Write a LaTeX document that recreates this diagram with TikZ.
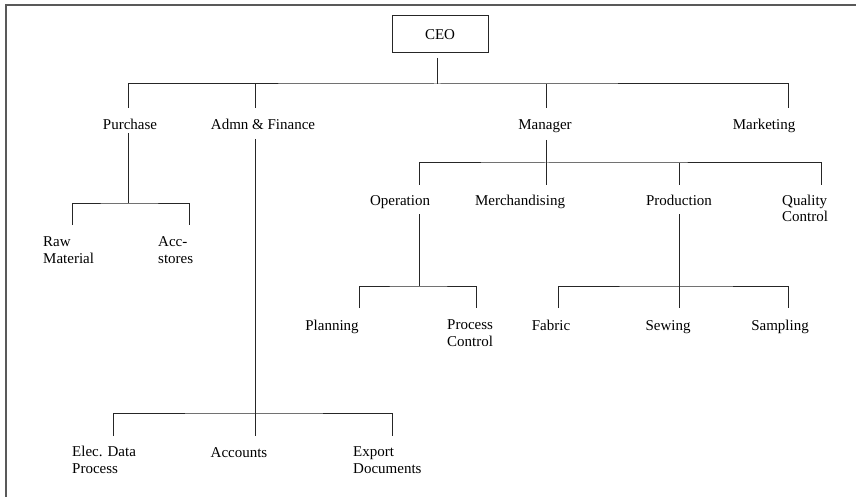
\documentclass[tikz,border=0pt]{standalone}
\usepackage{fontspec}
\setmainfont{Liberation Serif}
\begin{document}
\begin{tikzpicture}[x=1pt,y=-1pt,
  every node/.style={inner sep=0pt, font=\fontsize{15}{16.5}\selectfont},
  lbl/.style={anchor=base},
  % two-line labels: anchored at the baseline of their last line
  lbl2/.style={anchor=base west, align=left},
  link/.style={draw=black!85, line width=1pt},
  frame/.style={draw=black!65, line width=1.4pt}]
\useasboundingbox (0,0) rectangle (856,497);
% page frame (left and top edges)
\draw[frame] (6,497) -- (6,5) -- (856,5);

% ---- nodes ----
\node[draw=black!85, line width=1pt, minimum width=96pt, minimum height=37pt] (ceo) at (440,34.5) {CEO};

\node[lbl] (purchase) at (130,130) {Purchase};
\node[lbl] (admn) at (263,130) {Admn \& Finance};
\node[lbl] (manager) at (545,130) {Manager};
\node[lbl] (marketing) at (764,130) {Marketing};

\node[lbl2] (raw) at (43,263) {Raw\\Material};
\node[lbl2] (acc) at (158,263) {Acc-\\stores};

\node[lbl] (operation) at (400,205) {Operation};
\node[lbl] (merch) at (520,205) {Merchandising};
\node[lbl] (production) at (679,205) {Production};
\node[lbl2] (quality) at (782,222) {Quality\\Control};

\node[lbl] (planning) at (332,330) {Planning};
\node[lbl2] (process) at (447,346) {Process\\Control};
\node[lbl] (fabric) at (551,330) {Fabric};
\node[lbl] (sewing) at (668,330) {Sewing};
\node[lbl] (sampling) at (780,330) {Sampling};

\node[lbl2] (edp) at (72,473) {Elec. Data\\Process};
\node[lbl] (accounts) at (239,457) {Accounts};
\node[lbl2] (export) at (353,473) {Export\\Documents};

% ---- connector end points ----
\coordinate (ceo-out) at (437,58);
\coordinate (top-bus) at (437,84);
\coordinate (purchase-in) at (128,108);
\coordinate (admn-in) at (255,108);
\coordinate (manager-in) at (546,108);
\coordinate (marketing-in) at (788,108);

\coordinate (purchase-out) at (128,133);
\coordinate (purchase-bus) at (128,203);
\coordinate (raw-in) at (72,225);
\coordinate (acc-in) at (189,225);

\coordinate (admn-out) at (255,139);
\coordinate (admn-bus) at (255,413);
\coordinate (edp-in) at (113,436);
\coordinate (accounts-in) at (255,436);
\coordinate (export-in) at (392,436);

\coordinate (manager-out) at (546,140);
\coordinate (manager-bus) at (546,163);
\coordinate (operation-in) at (419,185);
\coordinate (merch-in) at (546,185);
\coordinate (production-in) at (679,185);
\coordinate (quality-in) at (821,185);

\coordinate (operation-out) at (419,214);
\coordinate (operation-bus) at (419,286);
\coordinate (planning-in) at (359,308);
\coordinate (process-in) at (476,308);

\coordinate (production-out) at (679,214);
\coordinate (production-bus) at (679,286);
\coordinate (fabric-in) at (558,308);
\coordinate (sewing-in) at (679,308);
\coordinate (sampling-in) at (788,308);

% ---- connectors ----
\draw[link] (ceo-out) -- (top-bus);
\draw[link] (purchase-in) |- (top-bus) -| (marketing-in);
\draw[link] (admn-in |- top-bus) -- (admn-in);
\draw[link] (manager-in |- top-bus) -- (manager-in);

\draw[link] (purchase-out) -- (purchase-bus);
\draw[link] (raw-in) |- (purchase-bus) -| (acc-in);

\draw[link] (admn-out) -- (accounts-in);
\draw[link] (edp-in) |- (admn-bus) -| (export-in);

\draw[link] (manager-out) -- (merch-in);
\draw[link] (operation-in) |- (manager-bus) -| (quality-in);
\draw[link] (production-in |- manager-bus) -- (production-in);

\draw[link] (operation-out) -- (operation-bus);
\draw[link] (planning-in) |- (operation-bus) -| (process-in);

\draw[link] (production-out) -- (sewing-in);
\draw[link] (fabric-in) |- (production-bus) -| (sampling-in);
\end{tikzpicture}
\end{document}
